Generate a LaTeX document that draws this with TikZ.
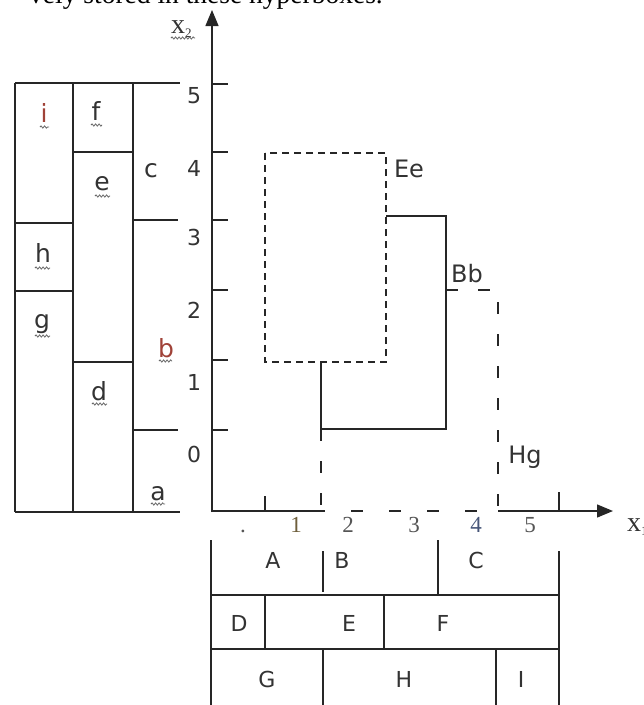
\documentclass[tikz,border=0pt]{standalone}
\usepackage{fontspec}
\setmainfont{DejaVu Sans}
\newfontfamily\serifx{Liberation Serif}
\usetikzlibrary{decorations.pathmorphing,arrows.meta}
\definecolor{lred}{RGB}{160,66,56}
\definecolor{numgray}{RGB}{85,85,85}
\begin{document}
\begin{tikzpicture}[x=1pt,y=-1pt,
  ln/.style={line width=1.4pt,draw=black!85},
  tick/.style={line width=2.2pt,draw=black!85},
  lbl/.style={font=\fontsize{22}{22}\selectfont,text=black!80,inner sep=0pt,anchor=base},
  llbl/.style={font=\fontsize{25}{25}\selectfont,text=black!80,inner sep=0pt,anchor=base},
  blbl/.style={font=\fontsize{24}{24}\selectfont,text=black!80,inner sep=0pt,anchor=base},
  rlbl/.style={llbl,text=lred},
  xnum/.style={font=\serifx\fontsize{23}{23}\selectfont,text=numgray,inner sep=0pt,anchor=base},
  axlbl/.style={font=\serifx\fontsize{28}{28}\selectfont,text=black!80,inner sep=0pt},
  squig/.style={decorate,decoration={snake,segment length=3.5pt,amplitude=1.1pt},line width=0.8pt,draw=black!60},
  dashA/.style={ln,dash pattern=on 7pt off 5pt},
  dashB/.style={ln,dash pattern=on 12pt off 20pt},
  arr/.style={-{Triangle[length=16pt,width=13pt]}}]
\useasboundingbox (0,0) rectangle (644,705);
\clip (0,0) rectangle (644,705);

% top cut-off text
\node[font=\serifx\fontsize{27.5}{27.5}\selectfont,anchor=base east,inner sep=0pt] (toptext) at (383,3) {vely stored in these hyperboxes.};

% axes
\coordinate (O) at (212,511);
\coordinate (ytop) at (212,10);
\coordinate (xa) at (321,511);
\coordinate (xb) at (498,511);
\coordinate (xtip) at (613,511);
\draw[ln,arr] (212,512) -- (ytop);
\draw[ln] (O) -- (xa);
\draw[ln,arr] (xb) -- (xtip);
\foreach \yy in {84,152,220,290,360,430} \draw[tick] (212,\yy) -- (228,\yy);
\draw[ln] (265,496) -- (265,511);
\draw[ln] (559,492) -- (559,511);

\node[axlbl,anchor=base west] (x2) at (171,33) {x\raisebox{-4pt}{\fontsize{13}{13}\selectfont 2}};
\draw[squig] (171,38) -- (195,38);
\node[axlbl,anchor=base west] (x1) at (627,531) {x\raisebox{-4pt}{\fontsize{13}{13}\selectfont 1}};

% y numbers
\node[lbl] (n5) at (194,103) {5};
\node[lbl] (n4) at (194,176) {4};
\node[lbl] (n3) at (194,245) {3};
\node[lbl] (n2) at (194,318) {2};
\node[lbl] (n1) at (194,390) {1};
\node[lbl] (n0) at (194,462) {0};

% x numbers
\node[xnum] (m0) at (243,532) {.};
\node[xnum,text={rgb,255:red,110;green,95;blue,60}] (m1) at (296,532) {1};
\node[xnum] (m2) at (348,532) {2};
\node[xnum] (m3) at (414,532) {3};
\node[xnum,text={rgb,255:red,70;green,85;blue,120}] (m4) at (476,532) {4};
\node[xnum] (m5) at (530,532) {5};

% left block
\draw[ln] (15,83) -- (180,83);
\draw[ln] (15,512) -- (180,512);
\draw[ln] (15,83) -- (15,512);
\draw[ln] (73,83) -- (73,512);
\draw[ln] (133,83) -- (133,512);
\draw[ln] (15,223) -- (73,223);
\draw[ln] (15,291) -- (73,291);
\draw[ln] (73,152) -- (133,152);
\draw[ln] (73,362) -- (133,362);
\draw[ln] (133,220) -- (178,220);
\draw[tick] (133,430) -- (178,430);

\node[rlbl] (li) at (44,122) {i};
\draw[squig] (40,127) -- (49,127);
\node[llbl] (lf) at (96,120) {f};
\draw[squig] (91,125) -- (102,125);
\node[llbl] (lc) at (151,177) {c};
\node[llbl] (le) at (102,190) {e};
\draw[squig] (95,196) -- (110,196);
\node[llbl] (lh) at (43,262) {h};
\draw[squig] (35,268) -- (50,268);
\node[llbl] (lg) at (42,328) {g};
\draw[squig] (35,336) -- (50,336);
\node[rlbl] (lb) at (166,357) {b};
\draw[squig] (159,361) -- (172,361);
\node[llbl] (ld) at (99,400) {d};
\draw[squig] (92,404) -- (107,404);
\node[llbl] (la) at (158,500) {a};
\draw[squig] (151,504) -- (165,504);

% hyperboxes
\draw[dashA] (265,153) rectangle (386,362);
\draw[ln] (386,216) -- (446,216) -- (446,429) -- (321,429) -- (321,362);
\draw[dashB] (446,290) -- (498,290) -- (xb);
\draw[dashB] (321,429) -- (xa);
\draw[ln,dash pattern=on 12pt off 26pt,dash phase=-30pt] (xa) -- (xb);
\node[blbl] (Ee) at (409,177) {Ee};
\node[blbl] (Bb) at (467,282) {Bb};
\node[blbl] (Hg) at (525,463) {Hg};

% bottom table
\draw[ln] (211,540) -- (211,705);
\draw[ln] (559,551) -- (559,705);
\draw[ln] (211,595) -- (559,595);
\draw[ln] (211,649) -- (559,649);
\draw[ln] (323,551) -- (323,592);
\draw[tick] (438,540) -- (438,595);
\draw[ln] (265,595) -- (265,649);
\draw[ln] (384,595) -- (384,649);
\draw[ln] (323,649) -- (323,705);
\draw[ln] (496,649) -- (496,705);

\node[lbl] (tA) at (273,568) {A};
\node[lbl] (tB) at (342,568) {B};
\node[lbl] (tC) at (476,568) {C};
\node[lbl] (tD) at (239,631) {D};
\node[lbl] (tE) at (349,631) {E};
\node[lbl] (tF) at (443,631) {F};
\node[lbl] (tG) at (267,687) {G};
\node[lbl] (tH) at (404,687) {H};
\node[lbl] (tI) at (521,687) {I};
\end{tikzpicture}
\end{document}
